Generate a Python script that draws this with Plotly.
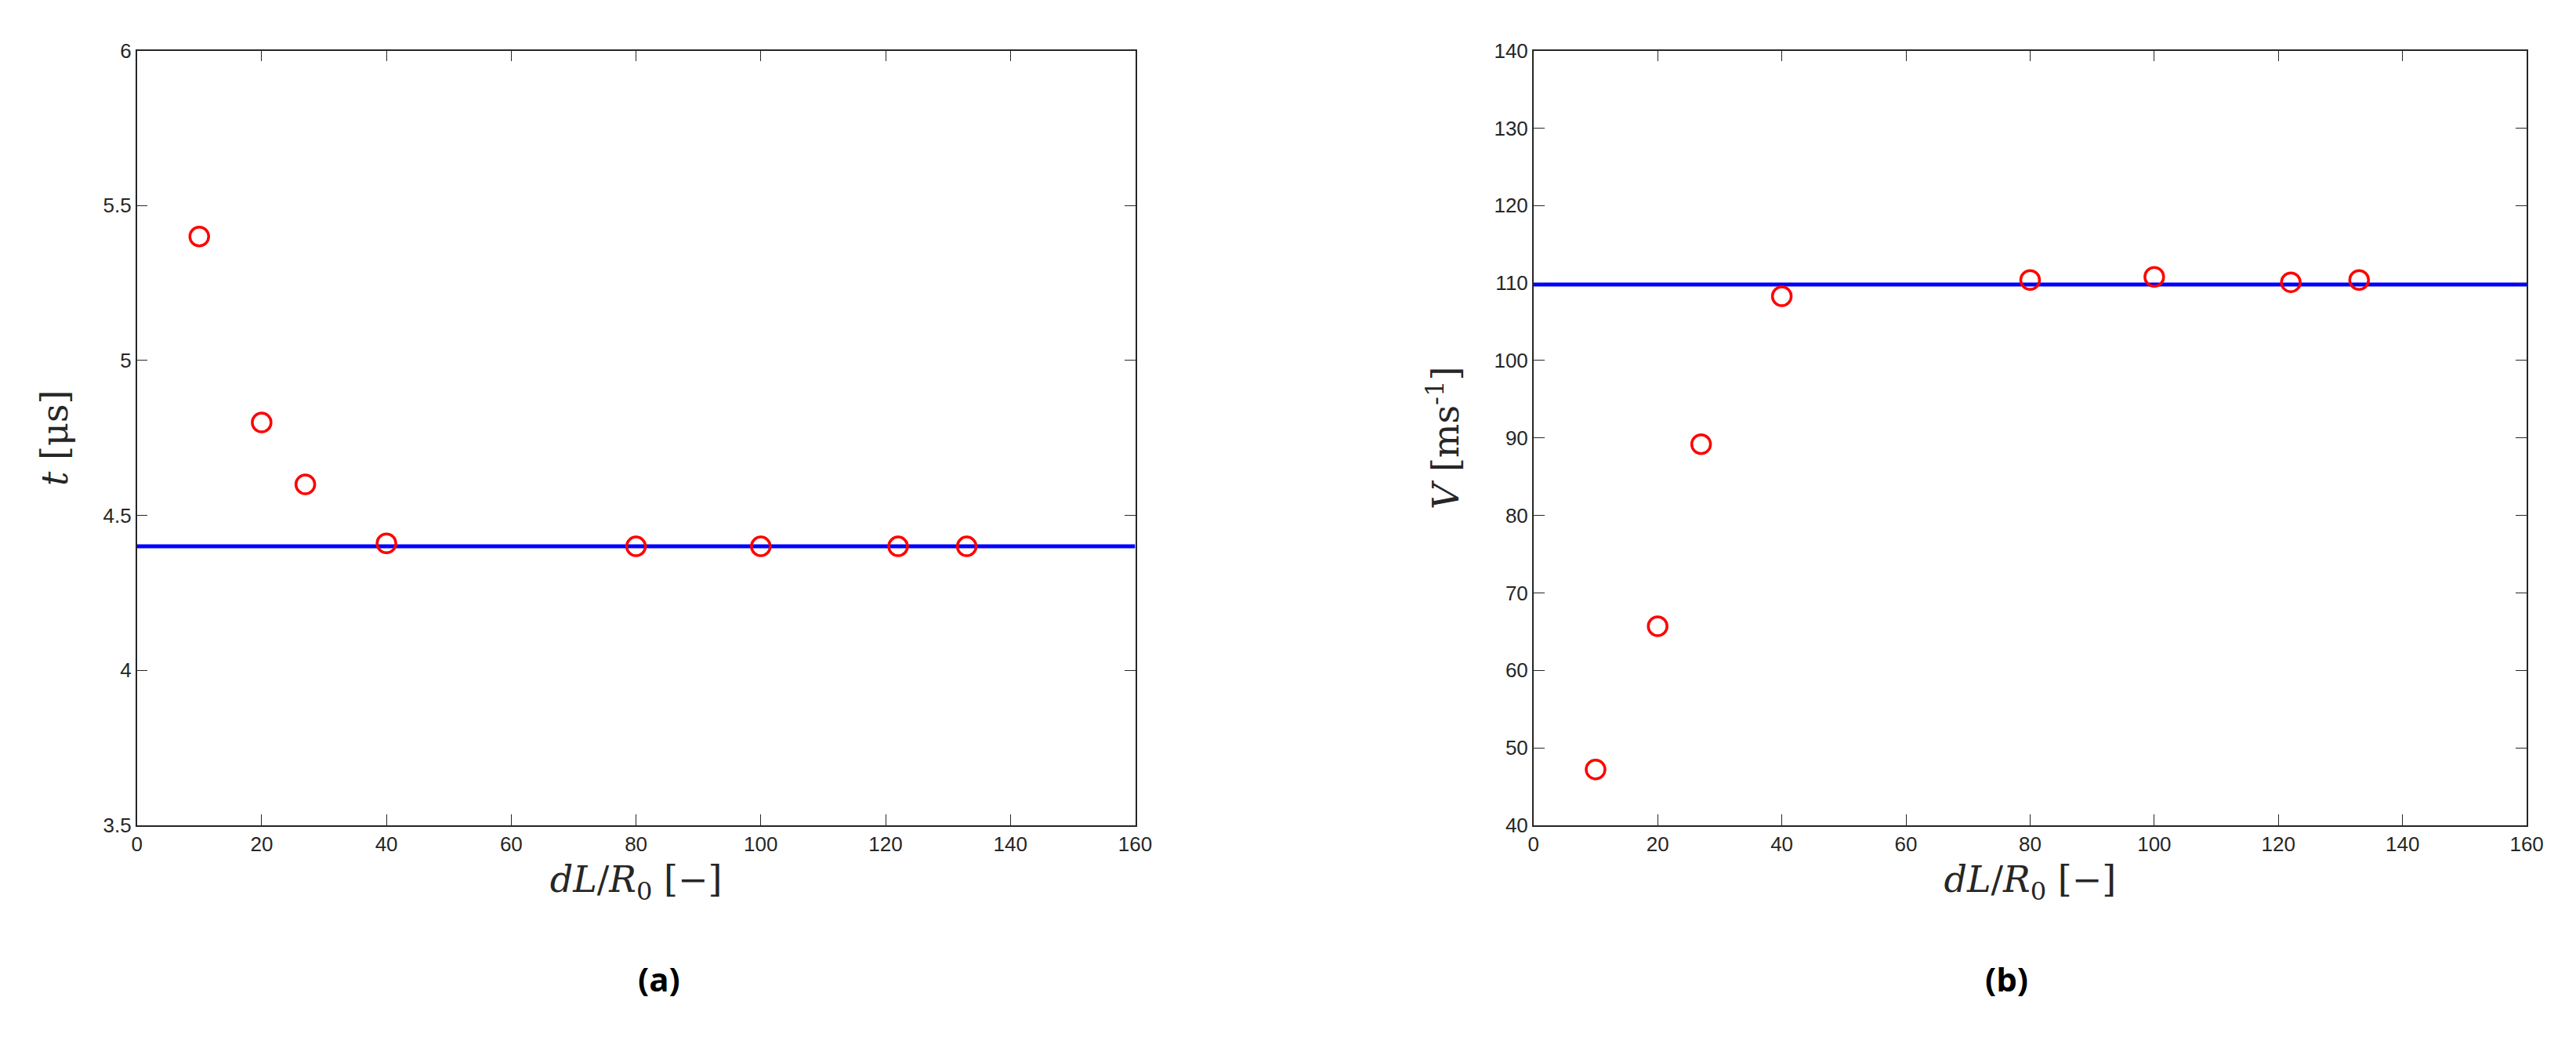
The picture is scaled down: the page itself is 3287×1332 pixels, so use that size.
import plotly.graph_objects as go

x_vals = [10, 20, 27, 40, 80, 100, 122, 133]
t_vals = [5.4, 4.8, 4.6, 4.41, 4.4, 4.4, 4.4, 4.4]
v_vals = [47.2, 65.7, 89.2, 108.3, 110.4, 110.8, 110.1, 110.4]
t_ref = 4.4
v_ref = 109.8
x_line = [0, 160]

fig = go.Figure()
fig.add_trace(go.Scatter(x=x_line, y=[t_ref, t_ref], mode="lines", line=dict(color="#0000ff", width=5), xaxis="x", yaxis="y"))
fig.add_trace(go.Scatter(x=x_vals, y=t_vals, mode="markers", marker=dict(symbol="circle-open", size=24, color="#ff0000", line=dict(width=3.5)), xaxis="x", yaxis="y"))
fig.add_trace(go.Scatter(x=x_line, y=[v_ref, v_ref], mode="lines", line=dict(color="#0000ff", width=5), xaxis="x2", yaxis="y2"))
fig.add_trace(go.Scatter(x=x_vals, y=v_vals, mode="markers", marker=dict(symbol="circle-open", size=24, color="#ff0000", line=dict(width=3.5)), xaxis="x2", yaxis="y2"))

ax = dict(showgrid=False, zeroline=False, showline=True, linecolor="#262626", linewidth=1.5, mirror="ticks",
          ticks="inside", ticklen=14, tickcolor="#262626", tickfont=dict(family="Liberation Sans", size=26, color="#262626"))
tfont = dict(family="DejaVu Serif", size=46, color="#262626")
xtitle = "<i>dL</i>/<i>R</i><sub>0</sub> [−]"
fig.update_layout(
    width=3287, height=1332, paper_bgcolor="white", plot_bgcolor="white", showlegend=False,
    margin=dict(l=0, r=0, t=0, b=0),
    xaxis=dict(ax, domain=[0.049, 0.44], range=[0, 160], dtick=20, anchor="y", title=dict(text=xtitle, font=tfont, standoff=15)),
    yaxis=dict(ax, domain=[0.209, 0.968], range=[3.5, 6], dtick=0.5, anchor="x", title=dict(text="<i>t</i> [μs]", font=tfont, standoff=30)),
    xaxis2=dict(ax, domain=[0.596, 0.985], range=[0, 160], dtick=20, anchor="y2", title=dict(text=xtitle, font=tfont, standoff=15)),
    yaxis2=dict(ax, domain=[0.209, 0.968], range=[40, 140], dtick=10, anchor="x2", title=dict(text="<i>V</i> [ms<sup>-1</sup>]", font=tfont, standoff=30)),
    annotations=[
        dict(text="<b>(a)</b>", x=0.2445, y=0.035, xref="paper", yref="paper", showarrow=False, font=dict(family="Open Sans", size=42, color="black")),
        dict(text="<b>(b)</b>", x=0.7905, y=0.035, xref="paper", yref="paper", showarrow=False, font=dict(family="Open Sans", size=42, color="black")),
    ],
)
fig.write_html("out.html")
